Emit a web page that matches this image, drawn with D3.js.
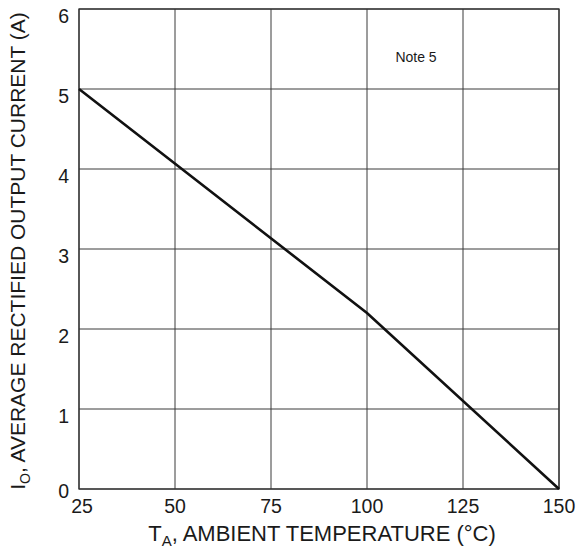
<!DOCTYPE html>
<html>
<head>
<meta charset="utf-8">
<script src="https://cdn.jsdelivr.net/npm/d3@7"></script>
<style>
  body { margin: 0; background: #fff; }
  text { font-family: Arial, "Liberation Sans", sans-serif; fill: #1a1a1a; }
</style>
</head>
<body>
<svg id="chart" width="579" height="550"></svg>
<script>
// derating curve
var tempC = [25, 100, 150]
var currentA = [5, 2.2, 0]
var xTicks = [25, 50, 75, 100, 125, 150]
var yTicks = [0, 1, 2, 3, 4, 5, 6]

var margin = { left: 79, top: 9, right: 20, bottom: 61 }
var width = 579, height = 550

var svg = d3.select('#chart')

var x = d3.scaleLinear().domain([25, 150]).range([margin.left, width - margin.right])
var y = d3.scaleLinear().domain([0, 6]).range([height - margin.bottom, margin.top])

// grid
svg.append('g')
  .selectAll('line')
  .data(xTicks)
  .enter()
  .append('line')
  .attr('x1', function(d) { return x(d) })
  .attr('x2', function(d) { return x(d) })
  .attr('y1', y(0))
  .attr('y2', y(6))
  .style('stroke', '#3a3a3a')
  .style('stroke-width', 1)

svg.append('g')
  .selectAll('line')
  .data(yTicks)
  .enter()
  .append('line')
  .attr('x1', x(25))
  .attr('x2', x(150))
  .attr('y1', function(d) { return y(d) })
  .attr('y2', function(d) { return y(d) })
  .style('stroke', '#3a3a3a')
  .style('stroke-width', 1)

svg.append('rect')
  .attr('x', x(25))
  .attr('y', y(6))
  .attr('width', x(150) - x(25))
  .attr('height', y(0) - y(6))
  .attr('fill', 'none')
  .style('stroke', '#333')
  .style('stroke-width', 1.3)

// tick labels
svg.append('g')
  .selectAll('text')
  .data(xTicks)
  .enter()
  .append('text')
  .attr('x', function(d) { return x(d) + (d === 25 ? 3 : 0) })
  .attr('y', y(0) + 24)
  .style('text-anchor', 'middle')
  .style('font-size', '19.5px')
  .text(function(d) { return d })

svg.append('g')
  .selectAll('text')
  .data(yTicks)
  .enter()
  .append('text')
  .attr('x', x(25) - 10)
  .attr('y', function(d) { return y(d) + (d === 0 ? 9 : 14) })
  .style('text-anchor', 'end')
  .style('font-size', '19.5px')
  .text(function(d) { return d })

// curve
var line = d3.line()
  .x(function(d, i) { return x(tempC[i]) })
  .y(function(d) { return y(d) })

svg.append('path')
  .datum(currentA)
  .attr('d', line)
  .attr('fill', 'none')
  .style('stroke', '#111')
  .style('stroke-width', 2.6)

svg.append('text')
  .attr('x', 416)
  .attr('y', 62)
  .style('text-anchor', 'middle')
  .style('font-size', '14px')
  .text('Note 5')

// axis titles
var xt = svg.append('text')
  .attr('x', 322)
  .attr('y', 541)
  .style('text-anchor', 'middle')
  .style('font-size', '22px')
xt.append('tspan').text('T')
xt.append('tspan').attr('dy', 5).style('font-size', '15px').text('A')
xt.append('tspan').attr('dy', -5).text(', AMBIENT TEMPERATURE (°C)')

var yt = svg.append('text')
  .attr('transform', 'translate(25,' + 251 + ') rotate(-90)')
  .style('text-anchor', 'middle')
  .style('font-size', '21px')
yt.append('tspan').text('I')
yt.append('tspan').attr('dy', 5).style('font-size', '14px').text('O')
yt.append('tspan').attr('dy', -5).text(', AVERAGE RECTIFIED OUTPUT CURRENT (A)')
</script>
</body>
</html>
